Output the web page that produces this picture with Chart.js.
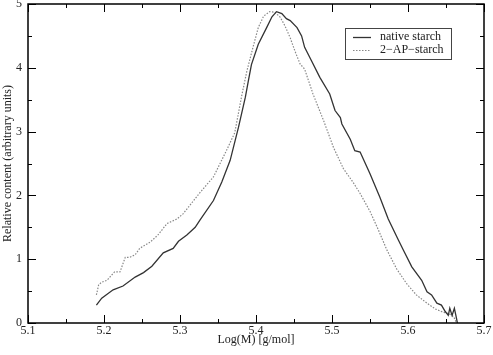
<!DOCTYPE html>
<html>
<head>
<meta charset="utf-8">
<script src="https://cdn.jsdelivr.net/npm/chart.js@4"></script>
<style>
html,body{margin:0;padding:0;background:#fff;}
#wrap{width:493px;height:355px;position:relative;}
</style>
</head>
<body>
<div id="wrap"><canvas id="c" width="493" height="355"></canvas></div>
<script>
const xTitle = 'Log(M) [g/mol]';
const yTitle = 'Relative content (arbitrary units)';
const seriesLabels = ['native starch', '2\u2212AP\u2212starch'];
const xTicks = [5.1, 5.2, 5.3, 5.4, 5.5, 5.6, 5.7];
const yTicks = [0, 1, 2, 3, 4, 5];

const nativeX = [5.190,5.197,5.212,5.225,5.241,5.252,5.263,5.278,5.291,5.298,5.309,5.320,5.326,5.344,5.355,5.366,5.377,5.386,5.390,5.394,5.403,5.414,5.421,5.427,5.434,5.440,5.445,5.454,5.460,5.464,5.473,5.484,5.497,5.504,5.511,5.513,5.524,5.530,5.537,5.550,5.563,5.574,5.587,5.594,5.605,5.618,5.625,5.631,5.638,5.644,5.649,5.653,5.655,5.658,5.661,5.663,5.665];
const nativeY = [0.28,0.39,0.52,0.58,0.72,0.79,0.89,1.10,1.17,1.28,1.38,1.50,1.61,1.92,2.21,2.55,3.07,3.54,3.80,4.05,4.37,4.63,4.80,4.88,4.85,4.77,4.74,4.63,4.50,4.32,4.11,3.85,3.59,3.33,3.22,3.12,2.88,2.70,2.68,2.34,1.97,1.63,1.31,1.14,0.88,0.67,0.49,0.44,0.31,0.28,0.18,0.12,0.23,0.12,0.23,0.12,0.00];

const apX = [5.190,5.193,5.197,5.204,5.210,5.214,5.221,5.228,5.234,5.241,5.247,5.261,5.271,5.283,5.296,5.304,5.318,5.326,5.344,5.361,5.372,5.381,5.388,5.396,5.403,5.410,5.418,5.425,5.432,5.438,5.445,5.451,5.458,5.464,5.475,5.489,5.502,5.515,5.528,5.537,5.550,5.561,5.572,5.585,5.598,5.611,5.625,5.636,5.646,5.653,5.660,5.664];
const apY = [0.44,0.60,0.64,0.67,0.75,0.80,0.80,1.03,1.03,1.07,1.17,1.27,1.38,1.56,1.63,1.71,1.92,2.04,2.29,2.70,2.98,3.55,3.95,4.32,4.63,4.81,4.88,4.87,4.79,4.66,4.47,4.27,4.06,3.98,3.59,3.17,2.75,2.42,2.20,2.03,1.75,1.46,1.15,0.85,0.62,0.44,0.31,0.22,0.17,0.15,0.10,0.00];

function pts(xs, ys){ return xs.map((x,i)=>({x:x, y:ys[i]})); }

const FONT = 'Liberation Serif';

const frameTicks = {
  id: 'frameTicks',
  afterDatasetsDraw(chart){
    const ctx = chart.ctx, a = chart.chartArea;
    const xs = chart.scales.x, ys = chart.scales.y;
    ctx.save();
    ctx.strokeStyle = '#000';
    ctx.lineWidth = 1;
    const major = 8, minor = 4;
    ctx.beginPath();
    xTicks.forEach((v,i)=>{
      const p = Math.round(xs.getPixelForValue(v)) + 0.5;
      ctx.moveTo(p, a.bottom); ctx.lineTo(p, a.bottom - major);
      ctx.moveTo(p, a.top); ctx.lineTo(p, a.top + major);
      if (i < xTicks.length - 1) {
        const m = Math.round(xs.getPixelForValue((v + xTicks[i+1]) / 2)) + 0.5;
        ctx.moveTo(m, a.bottom); ctx.lineTo(m, a.bottom - minor);
        ctx.moveTo(m, a.top); ctx.lineTo(m, a.top + minor);
      }
    });
    yTicks.forEach((v,i)=>{
      const p = Math.round(ys.getPixelForValue(v)) + 0.5;
      ctx.moveTo(a.left, p); ctx.lineTo(a.left + major, p);
      ctx.moveTo(a.right, p); ctx.lineTo(a.right - major, p);
      if (i < yTicks.length - 1) {
        const m = Math.round(ys.getPixelForValue((v + yTicks[i+1]) / 2)) + 0.5;
        ctx.moveTo(a.left, m); ctx.lineTo(a.left + minor, m);
        ctx.moveTo(a.right, m); ctx.lineTo(a.right - minor, m);
      }
    });
    ctx.stroke();
    ctx.lineWidth = 1.5;
    ctx.strokeRect(a.left, a.top, a.right - a.left, a.bottom - a.top);

    // legend box
    const bx = 345, by = 28, bw = 106, bh = 31;
    ctx.fillStyle = '#fff';
    ctx.fillRect(bx, by, bw, bh);
    ctx.lineWidth = 1;
    ctx.strokeStyle = '#444';
    ctx.strokeRect(bx + 0.5, by + 0.5, bw, bh);
    ctx.font = '12px "' + FONT + '"';
    ctx.textBaseline = 'middle';
    ctx.textAlign = 'left';
    chart.data.datasets.forEach((ds, i)=>{
      const yy = by + 9 + i * 12.5;
      ctx.save();
      ctx.strokeStyle = ds.borderColor;
      ctx.lineWidth = ds.borderWidth;
      ctx.setLineDash(ds.borderDash || []);
      ctx.beginPath();
      ctx.moveTo(bx + 8, Math.round(yy) + 0.5);
      ctx.lineTo(bx + 26, Math.round(yy) + 0.5);
      ctx.stroke();
      ctx.restore();
      ctx.fillStyle = '#222';
      ctx.fillText(ds.label, bx + 35, yy);
    });
    ctx.restore();
  }
};

new Chart(document.getElementById('c'), {
  type: 'scatter',
  data: {
    datasets: [
      { label: seriesLabels[0], data: pts(nativeX, nativeY), showLine: true, borderColor: '#333', borderWidth: 1.3, pointRadius: 0, tension: 0, fill: false },
      { label: seriesLabels[1], data: pts(apX, apY), showLine: true, borderColor: '#888', borderWidth: 1.2, borderDash: [1.5, 1.5], pointRadius: 0, tension: 0, fill: false }
    ]
  },
  options: {
    responsive: false,
    animation: false,
    layout: { padding: { left: 0, right: 9, top: 4, bottom: 0 } },
    plugins: { legend: { display: false }, tooltip: { enabled: false } },
    scales: {
      x: {
        type: 'linear', min: 5.1, max: 5.7,
        afterBuildTicks: s => { s.ticks = xTicks.map(v => ({value: v})); },
        ticks: { color: '#222', font: { family: FONT, size: 12 }, padding: 1, maxRotation: 0, callback: v => Number(v).toFixed(1) },
        grid: { display: false, drawTicks: false },
        border: { display: false },
        title: { display: true, text: xTitle, color: '#222', font: { family: FONT, size: 12 }, padding: { top: 0, bottom: 8 } },
        afterFit: s => { s.height = 32; s.paddingLeft = 0; s.paddingRight = 0; }
      },
      y: {
        type: 'linear', min: 0, max: 5,
        afterBuildTicks: s => { s.ticks = yTicks.map(v => ({value: v})); },
        ticks: { color: '#222', font: { family: FONT, size: 12 }, padding: 6, callback: v => String(v) },
        grid: { display: false, drawTicks: false },
        border: { display: false },
        title: { display: true, text: yTitle, color: '#222', font: { family: FONT, size: 12 }, padding: { top: 1, bottom: 0 } },
        afterFit: s => { s.width = 28; s.paddingTop = 0; s.paddingBottom = 0; }
      }
    }
  },
  plugins: [frameTicks]
});
</script>
</body>
</html>
